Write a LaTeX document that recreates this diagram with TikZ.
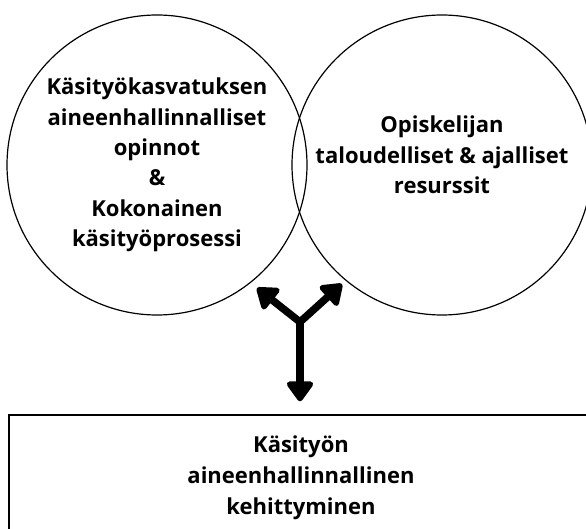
\documentclass[tikz,border=0pt]{standalone}
\usepackage{fontspec}
\setmainfont{Open Sans}
\usetikzlibrary{positioning,arrows.meta,shapes.geometric}

\begin{document}
\begin{tikzpicture}[x=1pt, y=-1pt,
  venn/.style = {draw, circle, line width=1.2pt, minimum size=300pt, inner sep=0pt, align=center,
                 font=\bfseries\fontsize{22}{30.4}\selectfont},
  result/.style = {draw, rectangle, line width=1.4pt, minimum width=584pt, minimum height=126pt, align=center,
                   font=\bfseries\fontsize{22}{31}\selectfont},
  fat/.style = {line width=7.5pt, -{Triangle[round, length=22pt, width=30pt]}}]
  \useasboundingbox (0,0) rectangle (586,529);
  \clip (0,0) rectangle (586,529);

  \node[venn] (aine) at (157,165) {Käsityökasvatuksen\\aineenhallinnalliset\\opinnot\\\&\\Kokonainen\\käsityöprosessi};
  \node[venn] (res) at (442,165) {Opiskelijan\\taloudelliset \& ajalliset\\resurssit\\[-10pt]};
  \node[result] (kehitys) at (301,478) {Käsityön\\aineenhallinnallinen\\kehittyminen};

  \coordinate (fork) at (300,322);
  \coordinate (tipL) at (257,288);
  \coordinate (tipR) at (342,284);

  \draw[fat] (fork) -- (tipL);
  \draw[fat] (fork) -- (tipR);
  \draw[fat, shorten >=13pt] (fork) -- (fork |- kehitys.north);
\end{tikzpicture}
\end{document}
